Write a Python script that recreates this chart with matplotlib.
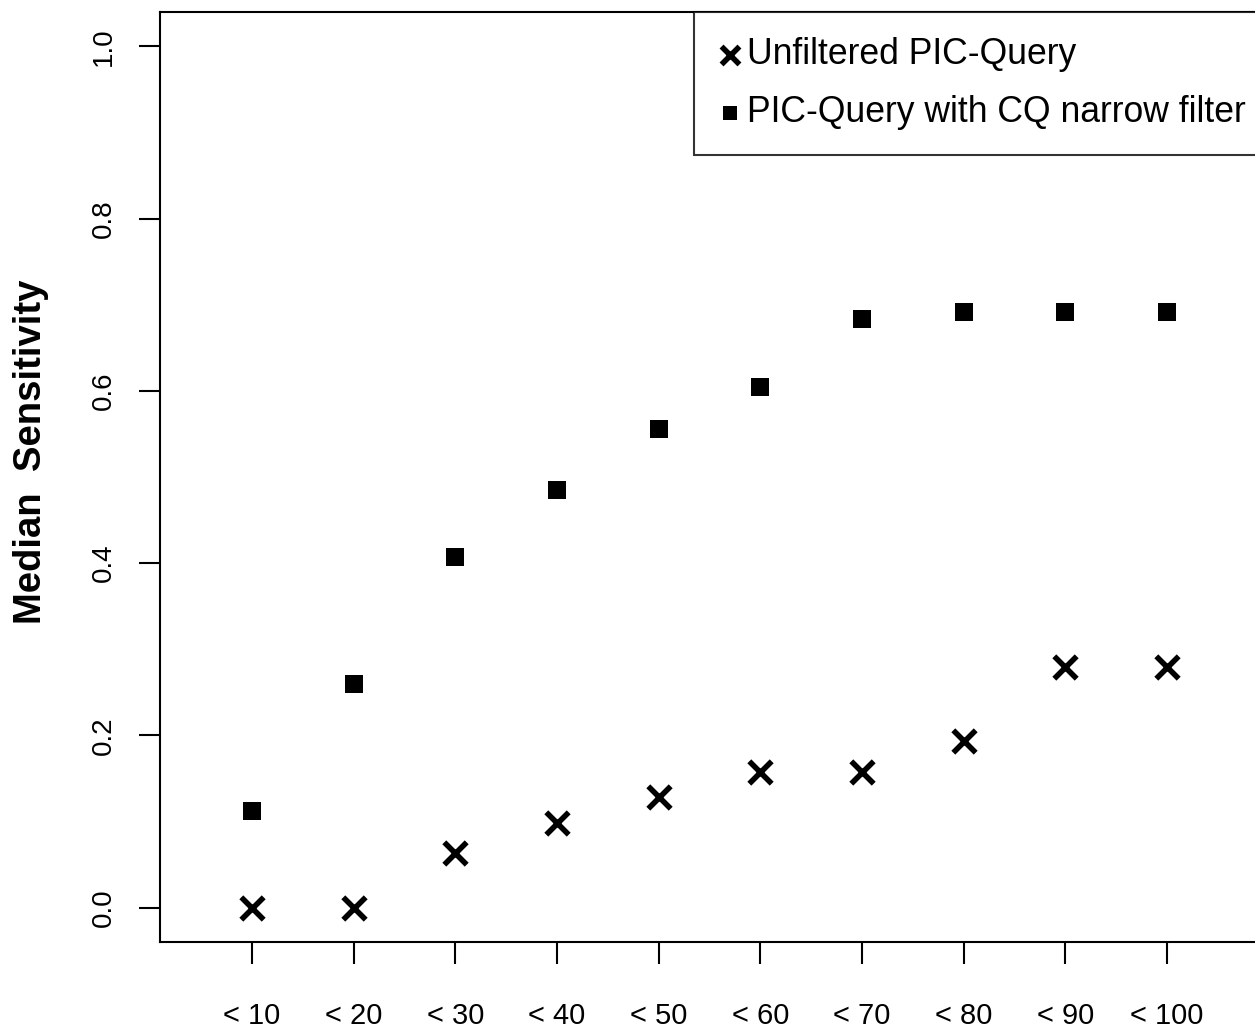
import matplotlib.pyplot as plt

# data
labels = ["< 10", "< 20", "< 30", "< 40", "< 50", "< 60", "< 70", "< 80", "< 90", "< 100"]
positions = list(range(1, 11))
unfiltered = [0.0, 0.0, 0.063, 0.098, 0.128, 0.157, 0.157, 0.193, 0.279, 0.279]
cq_narrow = [0.112, 0.260, 0.407, 0.485, 0.556, 0.605, 0.684, 0.692, 0.692, 0.692]

plt.rcParams['font.family'] = ['Liberation Sans', 'DejaVu Sans']

fig = plt.figure(figsize=(12.55, 10.32), dpi=100)
ax = fig.add_axes([160 / 1255, 90 / 1032, 1 - 160 / 1255, 930 / 1032])

ax.scatter(positions, unfiltered, marker='x', s=260, linewidths=4, color='black',
           label='Unfiltered PIC-Query')
ax.scatter(positions, cq_narrow, marker='s', s=170, color='black', linewidths=0,
           label='PIC-Query with CQ narrow filter')

ax.set_xlim(0.095, 10.865)
ax.set_ylim(-0.04, 1.04)

ax.set_xticks(positions)
ax.set_xticklabels(labels, fontsize=21)
ax.set_yticks([0.0, 0.2, 0.4, 0.6, 0.8, 1.0])
ax.set_yticklabels(['0.0', '0.2', '0.4', '0.6', '0.8', '1.0'], fontsize=20,
                   rotation=90, va='center')

ax.tick_params(axis='x', direction='out', length=16, width=1.5, pad=27)
ax.tick_params(axis='y', direction='out', length=15, width=1.5, pad=16)

for s in ax.spines.values():
    s.set_linewidth(1.5)
ax.spines['right'].set_visible(False)

ax.set_ylabel('Median  Sensitivity', fontsize=27.5, fontweight='bold')
ax.yaxis.set_label_coords(-0.1015, 0.527)

leg = ax.legend(loc='upper right', bbox_to_anchor=(1.0146, 1.0), borderaxespad=0,
                fontsize=25.6, frameon=True, fancybox=False, edgecolor='black',
                handlelength=0.6, handletextpad=0.2, labelspacing=0.65,
                borderpad=0.7, scatterpoints=1, markerscale=0.8)
leg.get_frame().set_linewidth(1.5)

fig.savefig('out.png', dpi=100)
